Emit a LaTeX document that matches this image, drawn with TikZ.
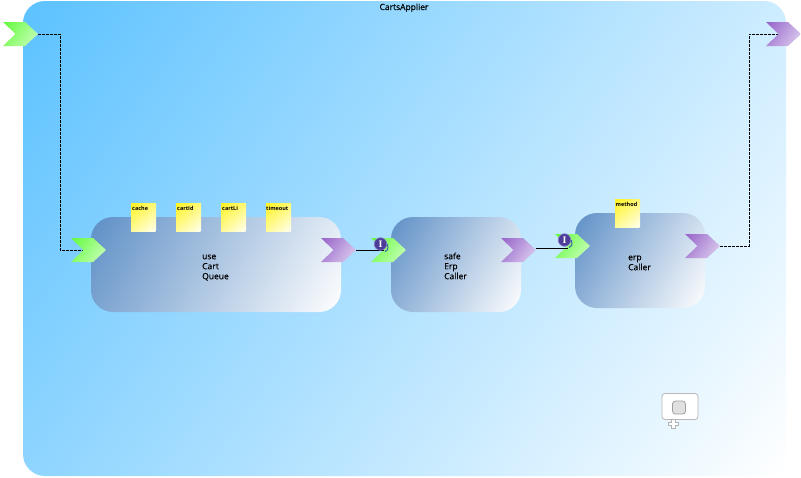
\documentclass[tikz,border=0pt]{standalone}
\usepackage{fontspec}
\setmainfont{Open Sans}
\newfontfamily\lblfont[FakeBold=0.35]{Open Sans}
\newfontfamily\badgefont{Liberation Serif}
\definecolor{bgA}{HTML}{5CC2FF}
\definecolor{bgB}{HTML}{FFFFFF}
\definecolor{boxA}{HTML}{5E8FC6}
\definecolor{boxB}{HTML}{FFFFFF}
\definecolor{inA}{HTML}{62FB3C}
\definecolor{inB}{HTML}{D2FFC4}
\definecolor{outA}{HTML}{9562C8}
\definecolor{outB}{HTML}{E2D6F2}
\definecolor{noteA}{HTML}{FFF41E}
\definecolor{noteB}{HTML}{FFFFF0}
\definecolor{badge}{HTML}{4C3E98}
\definecolor{rim}{HTML}{8578C8}
\definecolor{hook}{HTML}{3C62A8}
\newcommand{\gradfill}[8]{% path, x0,y0,x1,y1, angle, colours
  \begin{scope}
    \clip #1;
    \pgfmathsetmacro{\gcx}{(#2+#4)/2}
    \pgfmathsetmacro{\gcy}{(#3+#5)/2}
    \pgfmathsetmacro{\ghl}{(abs(#4-#2)*cos(#6)+abs(#5-#3)*sin(#6))/2}
    \pgfmathsetmacro{\ghm}{abs(#4-#2)+abs(#5-#3)}
    \begin{scope}[transform canvas={rotate around={-#6:(\gcx,\gcy)}}]
      \shade[left color=#7,right color=#8] (\gcx-\ghl,\gcy-\ghm) rectangle (\gcx+\ghl,\gcy+\ghm);
    \end{scope}
  \end{scope}}
\newcommand{\boxshape}[4]{\gradfill{[rounded corners=22] (#1,#2) rectangle (#3,#4)}{#1}{#2}{#3}{#4}{30}{boxA}{boxB}}
\newcommand{\notefill}[2]{\pgfmathsetmacro{\nx}{#1+25}\pgfmathsetmacro{\ny}{#2+28}\gradfill{(#1,#2) rectangle (\nx,\ny)}{#1}{#2}{\nx}{\ny}{50}{noteA}{noteB}}
\newcommand{\portshape}[4]{% x, y, colours
  \pgfmathsetmacro{\pa}{#1+22}\pgfmathsetmacro{\pb}{#1+35}\pgfmathsetmacro{\pc}{#1+12.5}
  \pgfmathsetmacro{\pd}{#2+12}\pgfmathsetmacro{\pe}{#2+24}
  \gradfill{(#1,#2) -- (\pa,#2) -- (\pb,\pd) -- (\pa,\pe) -- (#1,\pe) -- (\pc,\pd) -- cycle}{#1}{#2}{\pb}{\pe}{35}{#3}{#4}}
\tikzset{
  lbl/.style={font=\fontsize{8.5}{10}\lblfont, align=left, anchor=north west, inner sep=0pt, text=black},
  notelbl/.style={font=\fontsize{5.5}{6}\selectfont\bfseries, anchor=base west, inner sep=0pt, text=black},
  wire/.style={draw=black, line width=0.85pt},
  dashwire/.style={draw=black, line width=1pt, dash pattern=on 2.6pt off 1.4pt},
  badgenode/.style={circle, fill=badge, draw=rim, line width=0.7pt, minimum size=12.5pt, inner sep=0pt, text=white, font=\fontsize{10}{10}\badgefont\bfseries},
}
\begin{document}
\begin{tikzpicture}[x=1pt,y=-1pt]
\useasboundingbox (0,0) rectangle (801,477);
\fill[white] (0,0) rectangle (801,477);
% background panel
\gradfill{[rounded corners=22] (23,1) rectangle (786,476)}{23}{1}{786}{476}{35}{bgA}{bgB}
\begin{scope}
  \clip (300,0) rectangle (500,11);
  \node[font=\fontsize{8.5}{10}\lblfont, inner sep=0pt, anchor=base] (title) at (404,10) {CartsApplier};
\end{scope}
% anchor coordinates
\coordinate (srcTip) at (38,34);
\coordinate (srcA) at (60,34);
\coordinate (srcB) at (60,250);
\coordinate (useIn) at (84,250);
\coordinate (useOut) at (356,250);
\coordinate (safeIn) at (384,250);
\coordinate (safeOut) at (536,248);
\coordinate (erpIn) at (568,248);
\coordinate (erpOut) at (720,246);
\coordinate (dstA) at (749,246);
\coordinate (dstB) at (749,34);
\coordinate (dstIn) at (779,34);
% boxes
\boxshape{91}{217}{341}{312}
\boxshape{391}{217}{521}{312}
\boxshape{575}{213}{705}{308}
% notes
\notefill{131}{203}
\notefill{176}{203}
\notefill{221}{203}
\notefill{266}{203}
\notefill{615}{199}
\node[notelbl] (n1) at (132,210) {cache};
\node[notelbl] (n2) at (177,210) {cartId};
\node[notelbl] (n3) at (222,210) {cartLi};
\node[notelbl] (n4) at (266,210) {timeout};
\node[notelbl] (n5) at (615.5,206) {method};
% connectors
\draw[dashwire] (srcTip) -- (srcA) -- (srcB) -- (useIn);
\draw[dashwire] (erpOut) -- (dstA) -- (dstB) -- (dstIn);
% ports
\portshape{3}{22}{inA}{inB}
\portshape{71}{238}{inA}{inB}
\portshape{321}{238}{outA}{outB}
\portshape{371}{238}{inA}{inB}
\portshape{501}{238}{outA}{outB}
\portshape{555}{234}{inA}{inB}
\portshape{685}{234}{outA}{outB}
\portshape{766}{22}{outA}{outB}
\draw[wire] (useOut) -- (safeIn);
\draw[wire] (safeOut) -- (erpIn);
% box labels
\node[lbl] (use) at (202,252) {\rule{0pt}{7pt}use\\Cart\\Queue};
\node[lbl] (safe) at (444,252) {\rule{0pt}{7pt}safe\\Erp\\Caller};
\node[lbl] (erp) at (628,253) {\rule{0pt}{7pt}erp\\Caller};
% interface badges
\draw[hook, line width=1pt] (387.5,244) .. controls (388.5,249) and (387.5,251.5) .. (385,251.5);
\draw[hook, line width=1pt] (571.5,240) .. controls (572.5,245) and (571.5,247.5) .. (569,247.5);
\node[badgenode] (b1) at (380.5,244) {I};
\node[badgenode] (b2) at (564.5,240) {I};
% mini map
\node[draw=black!28, fill=white, line width=0.8pt, rounded corners=3, minimum width=36pt, minimum height=26pt, inner sep=0pt] (mini) at (680,406.5) {};
\node[draw=black!38, fill=black!12, line width=0.8pt, rounded corners=3, minimum width=13pt, minimum height=13pt, inner sep=0pt] (miniin) at (679,407.5) {};
\draw[draw=black!30, fill=white, line width=0.8pt] (671.5,419.5) -- (675.5,419.5) -- (675.5,422) -- (678.5,422) -- (678.5,425.5) -- (675.5,425.5) -- (675.5,428.5) -- (671.5,428.5) -- (671.5,425.5) -- (668.5,425.5) -- (668.5,422) -- (671.5,422) -- cycle;
\end{tikzpicture}
\end{document}
